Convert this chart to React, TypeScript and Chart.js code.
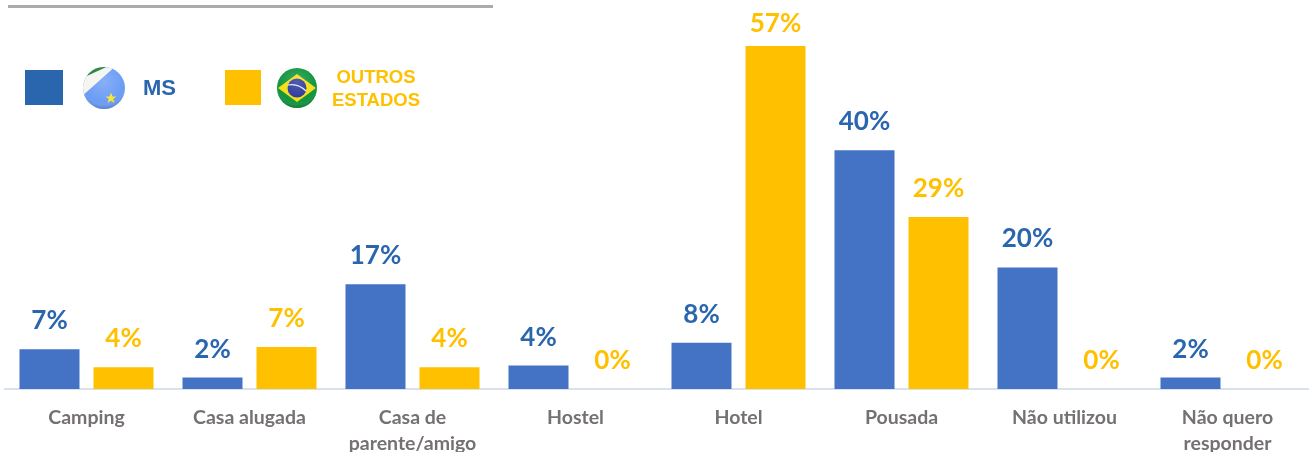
import React, { useEffect, useRef } from "react";
import { Chart, registerables } from "chart.js";

Chart.register(...registerables);

const categories = [
  "Camping",
  "Casa alugada",
  ["Casa de", "parente/amigo"],
  "Hostel",
  "Hotel",
  "Pousada",
  "Não utilizou",
  ["Não quero", "responder"],
];
const msValues = [6.6, 1.9, 17.4, 3.9, 7.7, 39.7, 20.2, 1.9];
const outrosValues = [3.6, 7.0, 3.6, 0, 57, 28.6, 0, 0];
const msLabels = ["7%", "2%", "17%", "4%", "8%", "40%", "20%", "2%"];
const outrosLabels = ["4%", "7%", "4%", "0%", "57%", "29%", "0%", "0%"];

const BLUE = "#4472C4";
const BLUE_TEXT = "#2A66AE";
const YELLOW = "#FFC000";
const GREY = "#767171";

const labelPlugin = {
  id: "valueLabels",
  afterDatasetsDraw(chart: any) {
    const { ctx } = chart;
    const sets = [
      { labels: msLabels, color: BLUE_TEXT },
      { labels: outrosLabels, color: YELLOW },
    ];
    ctx.save();
    ctx.font = "bold 26px Lato";
    ctx.textAlign = "center";
    ctx.textBaseline = "alphabetic";
    sets.forEach((set, i) => {
      ctx.fillStyle = set.color;
      chart.getDatasetMeta(i).data.forEach((bar: any, j: number) => {
        // the tallest bar's label sits closer to its bar, as it reaches the top edge
        const gap = bar.y < 60 ? 14 : 20;
        ctx.fillText(set.labels[j], bar.x, bar.y - gap);
      });
    });
    ctx.restore();
  },
};

function App() {
  const ref = useRef<HTMLCanvasElement>(null);
  useEffect(() => {
    const chart = new Chart(ref.current!, {
      type: "bar",
      data: {
        labels: categories as any,
        datasets: [
          { label: "MS", data: msValues, backgroundColor: BLUE },
          { label: "OUTROS ESTADOS", data: outrosValues, backgroundColor: YELLOW },
        ],
      },
      plugins: [labelPlugin],
      options: {
        animation: false,
        responsive: false,
        devicePixelRatio: 1,
        layout: { padding: { top: 28, left: 5, right: 0, bottom: 0 } },
        datasets: { bar: { categoryPercentage: 0.908, barPercentage: 0.811 } },
        plugins: { legend: { display: false }, tooltip: { enabled: false } },
        scales: {
          x: {
            afterFit(scale: any) {
              scale.height = 63;
            },
            grid: { display: false, drawTicks: false },
            border: { color: "#D9E2EC", width: 2 },
            ticks: {
              color: GREY,
              font: { family: "Lato", weight: "bold", size: 19.5, lineHeight: 1.36 },
              padding: 15,
              maxRotation: 0,
              autoSkip: false,
            },
          },
          y: { display: false, min: 0, max: 60 },
        },
      },
    } as any);
    return () => chart.destroy();
  }, []);

  return (
    <div style={{ position: "fixed", left: 0, top: 0, width: 1309, height: 452, background: "#fff", overflow: "hidden" }}>
      <canvas ref={ref} width={1309} height={452} style={{ display: "block" }} />
      <div style={{ position: "absolute", left: 8, top: 5, width: 485, height: 3, background: "#ABABAB" }} />
      <div style={{ position: "absolute", left: 25, top: 70, width: 38, height: 35, background: "#2A66AE" }} />
      <div style={{ position: "absolute", left: 225, top: 70, width: 36, height: 35, background: YELLOW }} />
      <svg width={1309} height={452} style={{ position: "absolute", left: 0, top: 0 }}>
        <defs>
          <clipPath id="msClip"><circle cx={104} cy={88} r={21} /></clipPath>
          <clipPath id="brClip"><circle cx={297} cy={88} r={20} /></clipPath>
          <radialGradient id="gloss" cx="50%" cy="35%" r="65%">
            <stop offset="0%" stopColor="#fff" stopOpacity={0.2} />
            <stop offset="75%" stopColor="#fff" stopOpacity={0} />
            <stop offset="100%" stopColor="#000" stopOpacity={0.2} />
          </radialGradient>
        </defs>
        <g clipPath="url(#msClip)">
          <rect x={80} y={64} width={50} height={50} fill="#6B9CF5" />
          <polygon points="80,64 118,64 80,98" fill="#F4F4F0" />
          <polygon points="80,64 113,64 80,79" fill="#1F7F3C" />
        </g>
        <polygon points="111,92.5 112.5,96.5 116.5,96.5 113.3,99 114.5,103 111,100.7 107.5,103 108.7,99 105.5,96.5 109.5,96.5" fill="#F2E634" />
        <circle cx={104} cy={88} r={21} fill="url(#gloss)" />
        <g clipPath="url(#brClip)">
          <rect x={277} y={68} width={40} height={40} fill="#12943E" />
          <polygon points="278,88 297,74 316,88 297,102" fill="#F4DE12" />
          <circle cx={297} cy={88} r={9.5} fill="#25339B" />
          <path d="M288 85 Q298 83 306 91" stroke="#E8EEF5" strokeWidth={1.2} fill="none" />
        </g>
        <circle cx={297} cy={88} r={20} fill="url(#gloss)" />
      </svg>
      <div style={{ position: "absolute", left: 143, top: 75, fontFamily: "Liberation Sans", fontWeight: "bold", fontSize: 22, lineHeight: "25px", color: BLUE_TEXT }}>MS</div>
      <div style={{ position: "absolute", left: 316, top: 65, width: 120, textAlign: "center", fontFamily: "Liberation Sans", fontWeight: "bold", fontSize: 18.5, lineHeight: "23px", color: YELLOW }}>
        OUTROS<br />ESTADOS
      </div>
    </div>
  );
}

export default App;
